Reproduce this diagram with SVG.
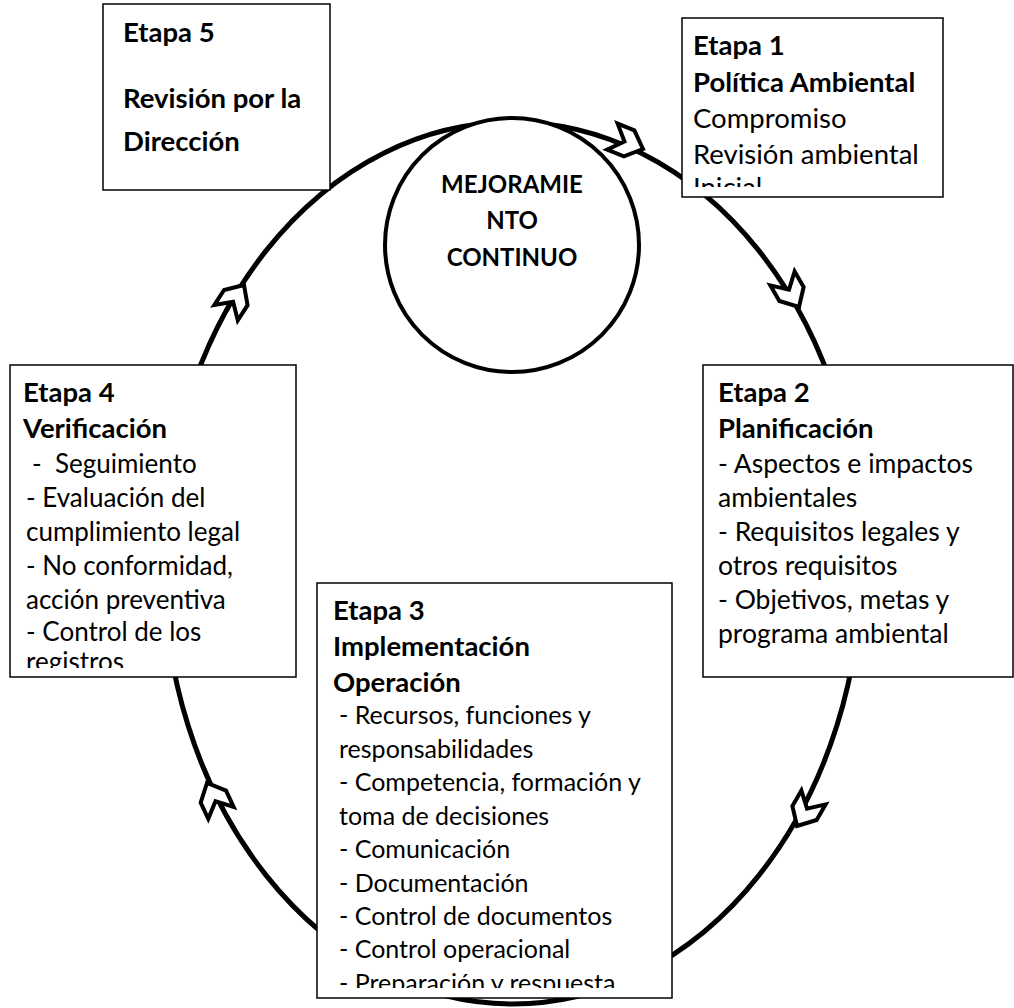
<svg xmlns="http://www.w3.org/2000/svg" width="1014" height="1008" viewBox="0 0 1014 1008">
<style>
.box{fill:#fff;stroke:#000;stroke-width:1.5}
.t{font-family:Lato,"Liberation Sans",sans-serif;fill:#000}
.h{font-size:27.5px;font-weight:bold}
.s1{font-size:27.5px}
.s2{font-size:26.5px}
.s4{font-size:26px}
.s3{font-size:25px}
.c{font-family:Lato,"Liberation Sans",sans-serif;font-size:24px;font-weight:bold;fill:#000;text-anchor:middle}
.ring{fill:none;stroke:#000;stroke-width:5}
.head{fill:#fff;stroke:#000;stroke-width:4;stroke-linejoin:miter}
</style>
<defs>
<path id="chev" d="M0,0 L-15,-14 L-33,-14 L-20,0 L-33,14 L-15,14 Z"/>
<clipPath id="c1"><rect x="682" y="18" width="261" height="169"/></clipPath>
<clipPath id="c4"><rect x="10" y="365" width="286" height="303"/></clipPath>
<clipPath id="c3"><rect x="317" y="583" width="355" height="405"/></clipPath>
</defs>
<g id="connectors">
<ellipse class="ring" cx="512.5" cy="563" rx="349" ry="441"/>
<use href="#chev" class="head" transform="translate(643,149) rotate(22)"/>
<use href="#chev" class="head" transform="translate(799,307) rotate(60)"/>
<use href="#chev" class="head" transform="translate(797,826) rotate(120)"/>
<use href="#chev" class="head" transform="translate(207,783) rotate(-115)"/>
<use href="#chev" class="head" transform="translate(244,285) rotate(-57)"/>
</g>
<g id="center">
<circle cx="512" cy="245" r="127" fill="#fff" stroke="#000" stroke-width="4"/>
<text class="c" x="512" y="193">MEJORAMIE</text>
<text class="c" x="512" y="229">NTO</text>
<text class="c" x="512" y="266">CONTINUO</text>
</g>
<g id="etapa5">
<rect class="box" x="103" y="4" width="227" height="186"/>
<text class="t h" x="123" y="42">Etapa 5</text>
<text class="t h" x="123" y="108">Revisión por la</text>
<text class="t h" x="123" y="151">Dirección</text>
</g>
<g id="etapa1">
<rect class="box" x="682" y="18" width="261" height="179"/>
<g clip-path="url(#c1)">
<text class="t h" x="693" y="55">Etapa 1</text>
<text class="t h" x="693" y="92">Política Ambiental</text>
<text class="t s1" x="693" y="128">Compromiso</text>
<text class="t s1" x="693" y="164">Revisión ambiental</text>
<text class="t s1" x="693" y="197">Inicial</text>
</g>
</g>
<g id="etapa2">
<rect class="box" x="703" y="365" width="310" height="312"/>
<text class="t h" x="718" y="402">Etapa 2</text>
<text class="t h" x="718" y="438">Planificación</text>
<text class="t s2" x="718" y="473">- Aspectos e impactos</text>
<text class="t s2" x="718" y="507">ambientales</text>
<text class="t s2" x="718" y="541">- Requisitos legales y</text>
<text class="t s2" x="718" y="575">otros requisitos</text>
<text class="t s2" x="718" y="609">- Objetivos, metas y</text>
<text class="t s2" x="718" y="643">programa ambiental</text>
</g>
<g id="etapa4">
<rect class="box" x="10" y="365" width="286" height="312"/>
<g clip-path="url(#c4)">
<text class="t h" x="23" y="402">Etapa 4</text>
<text class="t h" x="23" y="438">Verificación</text>
<text class="t s4" x="32" y="473" xml:space="preserve">-  Seguimiento</text>
<text class="t s4" x="26" y="507">- Evaluación del</text>
<text class="t s4" x="26" y="541">cumplimiento legal</text>
<text class="t s4" x="26" y="575">- No conformidad,</text>
<text class="t s4" x="26" y="609">acción preventiva</text>
<text class="t s4" x="26" y="641">- Control de los</text>
<text class="t s4" x="26" y="671">registros</text>
</g>
</g>
<g id="etapa3">
<rect class="box" x="317" y="583" width="355" height="415"/>
<g clip-path="url(#c3)">
<text class="t h" x="333" y="620">Etapa 3</text>
<text class="t h" x="333" y="656">Implementación</text>
<text class="t h" x="333" y="692">Operación</text>
<text class="t s3" x="339" y="724">- Recursos, funciones y</text>
<text class="t s3" x="339" y="758">responsabilidades</text>
<text class="t s3" x="339" y="791">- Competencia, formación y</text>
<text class="t s3" x="339" y="825">toma de decisiones</text>
<text class="t s3" x="339" y="858">- Comunicación</text>
<text class="t s3" x="339" y="892">- Documentación</text>
<text class="t s3" x="339" y="925">- Control de documentos</text>
<text class="t s3" x="339" y="958">- Control operacional</text>
<text class="t s3" x="339" y="992">- Preparación y respuesta</text>
</g>
</g>
</svg>
